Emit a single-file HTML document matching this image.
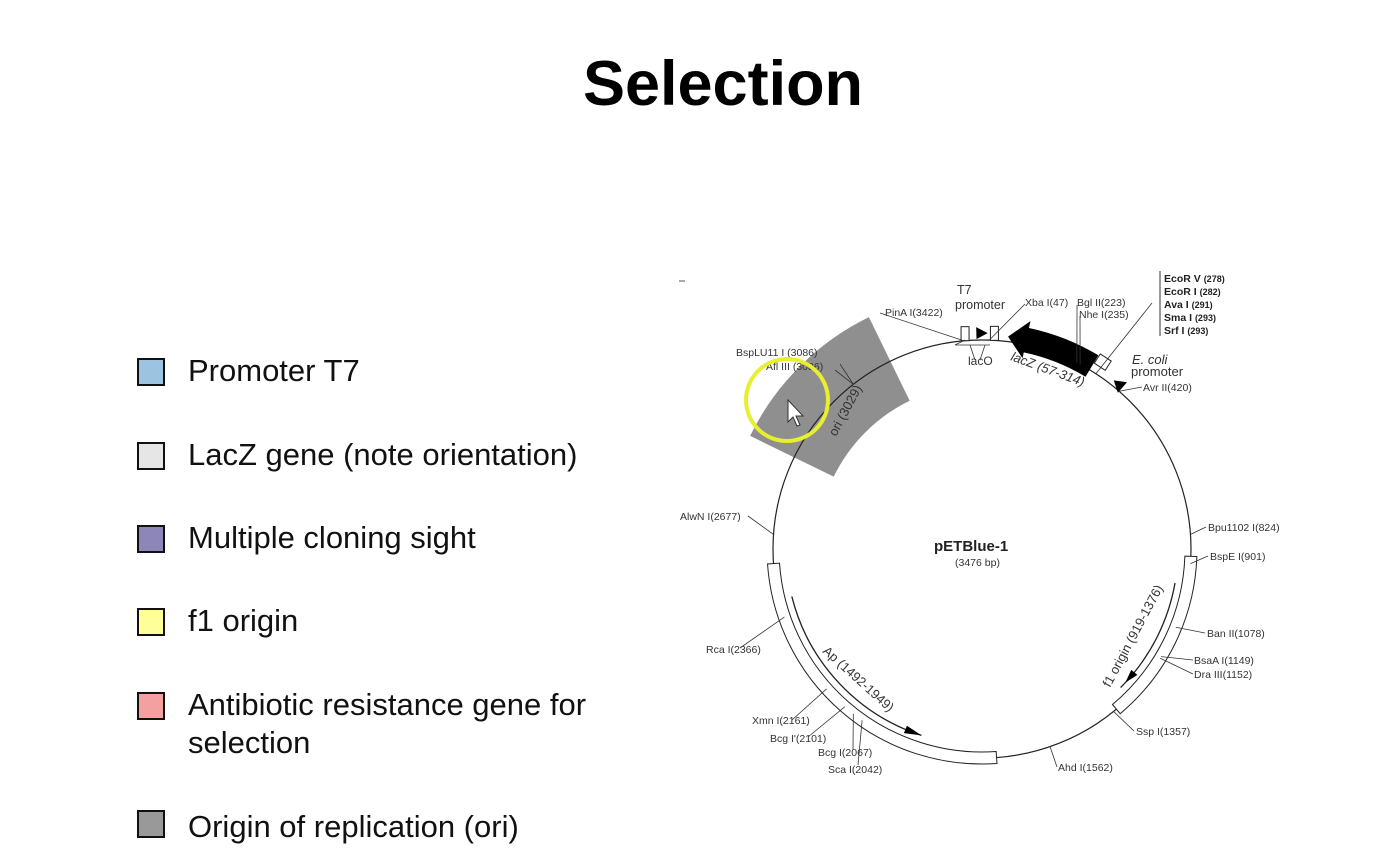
<!DOCTYPE html>
<html><head><meta charset="utf-8"><style>
body{margin:0;width:1384px;height:866px;background:#fff;overflow:hidden;font-family:"Liberation Sans",sans-serif;position:relative}
.title{position:absolute;left:0;width:1446px;top:48px;text-align:center;font-size:63px;font-weight:bold;color:#000}
.li{position:absolute;left:137px;font-size:31px;color:#111;line-height:38px}
.sw{position:absolute;left:137px;width:24px;height:24px;border:2px solid #111}
.lt{position:absolute;left:188px}
</style></head><body>
<div class="title">Selection</div>
<div>
<div class="sw" style="top:358px;background:#9cc3e0"></div><div class="li lt" style="top:352px">Promoter T7</div>
<div class="sw" style="top:442px;background:#e6e6e6"></div><div class="li lt" style="top:436px">LacZ gene (note orientation)</div>
<div class="sw" style="top:525px;background:#8c87b8"></div><div class="li lt" style="top:519px">Multiple cloning sight</div>
<div class="sw" style="top:608px;background:#ffff99"></div><div class="li lt" style="top:602px">f1 origin</div>
<div class="sw" style="top:692px;background:#f4a0a0"></div><div class="li lt" style="top:686px">Antibiotic resistance gene for<br>selection</div>
<div class="sw" style="top:810px;background:#999"></div><div class="li lt" style="top:808px">Origin of replication (ori)</div>
</div>
<svg id="map" width="1384" height="866" style="position:absolute;left:0;top:0" font-family="Liberation Sans, sans-serif">
<line x1="679" y1="281" x2="685" y2="281" stroke="#555"/>
<g id="g"></g>
<g font-size="10.5" fill="#333">
<text x="885" y="316">PinA I(3422)</text>
<text x="957" y="294" font-size="12.5">T7</text>
<text x="955" y="309" font-size="12.5">promoter</text>
<text x="1025" y="306">Xba I(47)</text>
<text x="1077" y="306">Bgl II(223)</text>
<text x="1079" y="318">Nhe I(235)</text>
<text x="968" y="365" font-size="12">lacO</text>
<text x="1010" y="360" font-size="13" font-style="italic" transform="rotate(20 1010 360)">lacZ (57-314)</text>
<g font-weight="bold" fill="#222" font-size="10.5">
<text x="1164" y="282">EcoR V <tspan font-size="9">(278)</tspan></text>
<text x="1164" y="295">EcoR I <tspan font-size="9">(282)</tspan></text>
<text x="1164" y="308">Ava I <tspan font-size="9">(291)</tspan></text>
<text x="1164" y="321">Sma I <tspan font-size="9">(293)</tspan></text>
<text x="1164" y="334">Srf I <tspan font-size="9">(293)</tspan></text>
</g>
<line x1="1160" y1="271" x2="1160" y2="336" stroke="#333"/>
<text x="1132" y="364" font-size="13" font-style="italic">E. coli</text>
<text x="1131" y="376" font-size="13">promoter</text>
<text x="1143" y="391">Avr II(420)</text>
<text x="736" y="356">BspLU11 I (3086)</text>
<text x="766" y="370">Afl III (3086)</text>
<text x="680" y="520">AlwN I(2677)</text>
<text x="1208" y="531">Bpu1102 I(824)</text>
<text x="1210" y="560">BspE I(901)</text>
<text x="1207" y="637">Ban II(1078)</text>
<text x="1194" y="664">BsaA I(1149)</text>
<text x="1194" y="678">Dra III(1152)</text>
<text x="1136" y="735">Ssp I(1357)</text>
<text x="1058" y="771">Ahd I(1562)</text>
<text x="828" y="773">Sca I(2042)</text>
<text x="818" y="756">Bcg I(2067)</text>
<text x="770" y="742">Bcg I'(2101)</text>
<text x="752" y="724">Xmn I(2161)</text>
<text x="706" y="653">Rca I(2366)</text>
<text x="934" y="551" font-size="15" font-weight="bold" fill="#222">pETBlue-1</text>
<text x="955" y="566">(3476 bp)</text>
<text x="822" y="652" font-size="13" transform="rotate(42 822 652)">Ap (1492-1949)</text>
<text x="1110" y="688" font-size="13" transform="rotate(-62 1110 688)">f1 origin (919-1376)</text>
<text x="836" y="437" font-size="13" transform="rotate(-62 836 437)">ori (3029)</text>
</g>
<circle cx="787" cy="400" r="41" fill="none" stroke="#e8ee30" stroke-width="4"/>
<path d="M788,400 L788,422 L793,417 L797,426 L800,425 L796,416 L803,416 Z" fill="#fff" stroke="#333" stroke-width="1"/>
</svg>
<script>
const CX=982, CY=549, R=209;
const g=document.getElementById('g');
const NS='http://www.w3.org/2000/svg';
function pt(a,r){const t=a*Math.PI/180;return [CX+r*Math.sin(t),CY-r*Math.cos(t)];}
function mk(tag,attrs){const e=document.createElementNS(NS,tag);for(const k in attrs)e.setAttribute(k,attrs[k]);g.appendChild(e);return e;}
function band(a1,a2,r1,r2){const p1=pt(a1,r2),p2=pt(a2,r2),p3=pt(a2,r1),p4=pt(a1,r1);const l=(a2-a1)>180?1:0;
return `M${p1} A${r2},${r2} 0 ${l} 1 ${p2} L${p3} A${r1},${r1} 0 ${l} 0 ${p4} Z`;}
let e=mk('path',{d:band(-64,-26,165,258),fill:'#8f8f8f'});


e=mk('circle',{cx:CX,cy:CY,r:R,fill:'none',stroke:'#222','stroke-width':1.2});


const boxAngles=[[92,140],[176,266]];
const boxNames=['f1-origin-box','ap-box'];
boxAngles.forEach((b,i)=>{const el=mk('path',{d:band(b[0],b[1],203,215),fill:'#fff',stroke:'#222','stroke-width':1});

});
function arc(a1,a2,r){const p1=pt(a1,r),p2=pt(a2,r);return `M${p1} A${r},${r} 0 0 1 ${p2}`;}
e=mk('path',{d:arc(100,135,196),fill:'none',stroke:'#222','stroke-width':1.3});


e=mk('path',{d:arc(198,256,196),fill:'none',stroke:'#222','stroke-width':1.3});


function head(a,r,dir,len,w){const p=pt(a,r),b1=pt(a-dir*len,r-w),b2=pt(a-dir*len,r+w);return `M${p} L${b1} L${b2} Z`;}
e=mk('path',{d:head(133,196,1,4,4),fill:'#000'});


e=mk('path',{d:head(198,196,-1,5,4),fill:'#000'});


// lacZ arrow (thick)
const lz=[7,31];
const p0=pt(lz[0],214),pa=pt(lz[0]+5,195),pb=pt(lz[0]+5,201),pc=pt(lz[1],201),pd=pt(lz[1],226),pe=pt(lz[0]+5,226),pf=pt(lz[0]+5,233);
e=mk('path',{d:`M${p0} L${pf} L${pe} A226,226 0 0 1 ${pd} L${pc} A201,201 0 0 0 ${pb} L${pa} Z`,fill:'#000'});


[[-4.5],[3.3]].forEach((a,i)=>{const p=pt(a[0],216);const el=mk('rect',{x:p[0]-4,y:p[1]-7,width:8,height:14,fill:'#fff',stroke:'#222'});

});
e=mk('path',{d:head(1.5,216,1,3,6),fill:'#000'});


e=mk('path',{d:head(38,214,-1,3,7),fill:'#000'});


const mp=pt(33,222);
e=mk('rect',{x:mp[0]-7,y:mp[1]-6,width:13,height:11,fill:'#fff',stroke:'#222',transform:`rotate(33 ${mp[0]} ${mp[1]})`});


const siteAngles=[-5,2,27,28,33,41,86,94,112,121,121.5,141,161,215,218,221,228,251,274,-38,-38];
const siteEnds=[[880,313],[1025,304],[1077,305],[1080,316],[1152,303],[1142,387],[1206,527],[1208,556],[1205,633],[1193,660],[1193,674],[1134,731],[1057,767],[858,765],[853,750],[808,737],[792,720],[740,648],[748,516],[840,364],[835,370]];
siteAngles.forEach((a,i)=>{const p=pt(a,R);const q=siteEnds[i];const el=mk('polyline',{points:`${p} ${q}`,fill:'none',stroke:'#333','stroke-width':0.8});

});
mk('path',{d:'M965,340 L955,345 L990,345 M985,345 L980,360 M970,345 L975,360',fill:'none',stroke:'#333','stroke-width':0.8});
</script>
</body></html>
